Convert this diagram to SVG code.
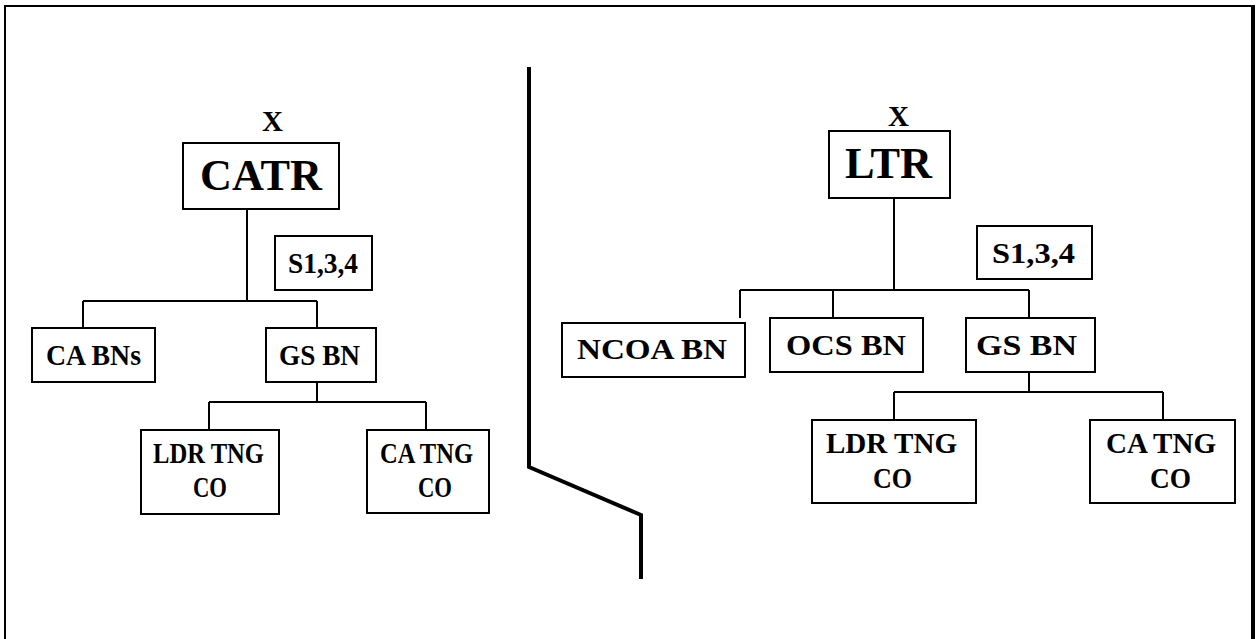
<svg xmlns="http://www.w3.org/2000/svg" width="1259" height="639" viewBox="0 0 1259 639">
<style>
.box{fill:#fff;stroke:#000;stroke-width:2}
.con{fill:none;stroke:#000;stroke-width:2}
text{font-family:"Liberation Serif","Times New Roman",serif;font-weight:bold;font-size:30px;fill:#000}
.big{font-size:45px}
</style>
<rect x="0" y="0" width="1259" height="639" fill="#fff"/>
<g id="frame">
<path d="M5,645 V6 H1253" fill="none" stroke="#000" stroke-width="2"/>
<path d="M1253,5 V645" fill="none" stroke="#000" stroke-width="4"/>
</g>
<g id="divider">
<path d="M529,67 V467 L641,515 V579" fill="none" stroke="#000" stroke-width="4"/>
</g>
<g id="connectors">
<path class="con" d="M247,209 V301 M83,301 H317 M83,301 V328 M317,301 V328"/>
<path class="con" d="M317,376 V402 M209,402 H426 M209,402 V430 M426,402 V430"/>
<path class="con" d="M894,198 V290 M740,290 H1029 M740,290 V318 M833,290 V318 M1029,290 V318"/>
<path class="con" d="M1029,364 V392 M894,392 H1163 M894,392 V420 M1163,392 V420"/>
</g>
<g id="x-left"><text x="262" y="131" textLength="21" lengthAdjust="spacingAndGlyphs">X</text></g>
<g id="catr">
<rect class="box" x="183" y="143" width="156" height="66"/>
<text class="big" x="200" y="190" textLength="122" lengthAdjust="spacingAndGlyphs">CATR</text>
</g>
<g id="s134-left">
<rect class="box" x="275" y="236" width="97" height="54"/>
<text x="288" y="273" textLength="70" lengthAdjust="spacingAndGlyphs">S1,3,4</text>
</g>
<g id="ca-bns">
<rect class="box" x="32" y="328" width="123" height="54"/>
<text x="46" y="365" textLength="95" lengthAdjust="spacingAndGlyphs">CA BNs</text>
</g>
<g id="gs-bn-left">
<rect class="box" x="266" y="328" width="110" height="54"/>
<text x="279" y="365" textLength="81" lengthAdjust="spacingAndGlyphs">GS BN</text>
</g>
<g id="ldr-tng-co-left">
<rect class="box" x="141" y="430" width="138" height="84"/>
<text x="153" y="463" textLength="111" lengthAdjust="spacingAndGlyphs">LDR TNG</text>
<text x="193" y="497" textLength="34" lengthAdjust="spacingAndGlyphs">CO</text>
</g>
<g id="ca-tng-co-left">
<rect class="box" x="367" y="430" width="122" height="83"/>
<text x="380" y="463" textLength="93" lengthAdjust="spacingAndGlyphs">CA TNG</text>
<text x="418" y="497" textLength="34" lengthAdjust="spacingAndGlyphs">CO</text>
</g>
<g id="x-right"><text x="888" y="126" textLength="21" lengthAdjust="spacingAndGlyphs">X</text></g>
<g id="ltr">
<rect class="box" x="829" y="131" width="121" height="67"/>
<text class="big" x="845" y="178" textLength="87" lengthAdjust="spacingAndGlyphs">LTR</text>
</g>
<g id="s134-right">
<rect class="box" x="977" y="226" width="115" height="53"/>
<text x="992" y="263" textLength="83" lengthAdjust="spacingAndGlyphs">S1,3,4</text>
</g>
<g id="ncoa-bn">
<rect class="box" x="562" y="323" width="183" height="54"/>
<text x="577" y="359" textLength="150" lengthAdjust="spacingAndGlyphs">NCOA BN</text>
</g>
<g id="ocs-bn">
<rect class="box" x="770" y="318" width="153" height="54"/>
<text x="786" y="355" textLength="120" lengthAdjust="spacingAndGlyphs">OCS BN</text>
</g>
<g id="gs-bn-right">
<rect class="box" x="966" y="318" width="129" height="54"/>
<text x="976" y="355" textLength="101" lengthAdjust="spacingAndGlyphs">GS BN</text>
</g>
<g id="ldr-tng-co-right">
<rect class="box" x="812" y="420" width="164" height="83"/>
<text x="826" y="453" textLength="131" lengthAdjust="spacingAndGlyphs">LDR TNG</text>
<text x="873" y="488" textLength="39" lengthAdjust="spacingAndGlyphs">CO</text>
</g>
<g id="ca-tng-co-right">
<rect class="box" x="1090" y="420" width="145" height="83"/>
<text x="1106" y="453" textLength="110" lengthAdjust="spacingAndGlyphs">CA TNG</text>
<text x="1150" y="488" textLength="41" lengthAdjust="spacingAndGlyphs">CO</text>
</g>
</svg>
